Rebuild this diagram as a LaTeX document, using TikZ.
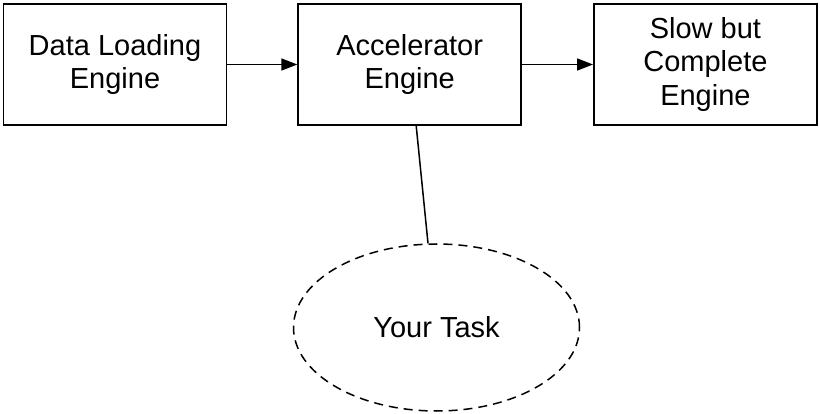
\documentclass[tikz,border=0pt]{standalone}
\usepackage{fontspec}
\setmainfont{Liberation Sans}
\usetikzlibrary{arrows.meta,positioning,shapes.geometric}
\tikzset{
  engbox/.style={draw, line width=1.7pt, minimum width=223pt, minimum height=121pt,
    align=center, font=\fontsize{29}{33.5}\selectfont},
  flowln/.style={-{Triangle[length=16pt,width=12pt]}, line width=1.5pt},
  taskln/.style={line width=1.5pt},
}

\begin{document}
\begin{tikzpicture}[x=1pt, y=-1pt]
  \useasboundingbox (0,0) rectangle (820,414);
  \node[engbox] (load) at (115,64.5) {Data Loading\\Engine};
  \node[engbox, right=70pt of load] (accel) {Accelerator\\Engine};
  \node[engbox, right=71pt of accel] (slow) {Slow but\\Complete\\Engine};
  \node[ellipse, draw, dashed, dash pattern=on 9pt off 6pt, line width=1.5pt,
    minimum width=286pt, minimum height=167pt,
    font=\fontsize{29}{33.5}\selectfont] (task) at (436.5,327.5) {Your Task};
  \draw[flowln] (load) -- (accel);
  \draw[flowln] (accel) -- (slow);
  \draw[taskln] ([xshift=6.5pt]accel.south) -- ([xshift=-8.5pt]task.north);
\end{tikzpicture}
\end{document}
